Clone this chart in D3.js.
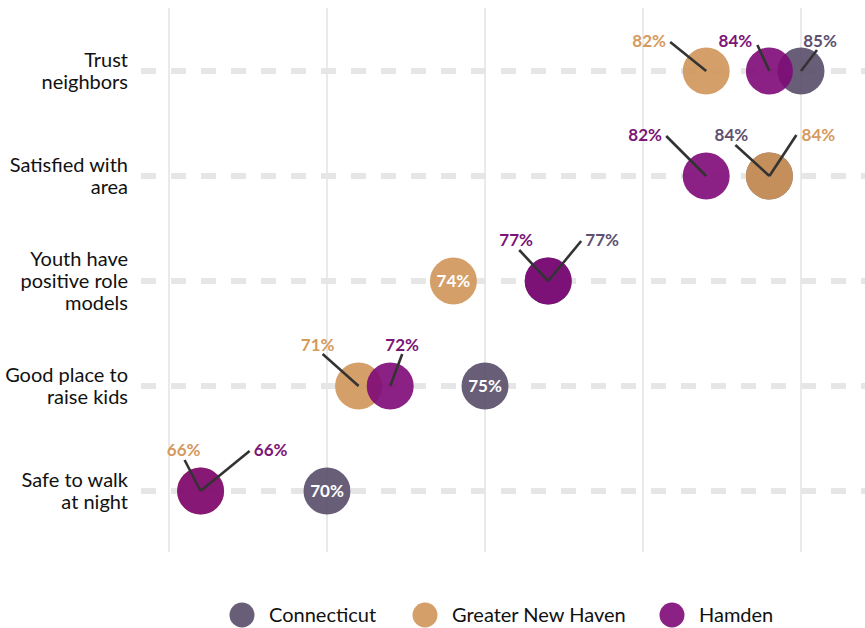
<!DOCTYPE html>
<html><head><meta charset="utf-8">
<script src="https://cdn.jsdelivr.net/npm/d3@7"></script>
<style>body{margin:0;background:#fff;} svg{display:block;font-family:"Source Sans Pro","Lato","Noto Sans",sans-serif;}</style>
</head><body><svg id="c" width="865" height="628"></svg>
<script>
const categories = ["Trust neighbors","Satisfied with area","Youth have positive role models","Good place to raise kids","Safe to walk at night"];
const categoryLines = [["Trust","neighbors"],["Satisfied with","area"],["Youth have","positive role","models"],["Good place to","raise kids"],["Safe to walk","at night"]];
const seriesNames = ["Connecticut","Greater New Haven","Hamden"];
const connecticut = [85, 84, 77, 75, 70];
const greaterNewHaven = [82, 84, 74, 71, 66];
const hamden = [84, 82, 77, 72, 66];
const xTicks = [65, 70, 75, 80, 85];

const colors = {"Connecticut":"#594d69","Greater New Haven":"#cf9559","Hamden":"#7e0977"};
const textColors = {"Connecticut":"#5e5070","Greater New Haven":"#d59a5e","Hamden":"#7b1577"};
// label placement: [series, category index] -> text offset & leader end offset (px); none = inside
const nudges = {
  "Greater New Haven|0":{t:[-57,-30],l:[-36,-29]},
  "Hamden|0":{t:[-34,-30],l:[-12,-26]},
  "Connecticut|0":{t:[19,-30],l:[16,-21]},
  "Hamden|1":{t:[-61,-41],l:[-40,-40]},
  "Connecticut|1":{t:[-38,-41],l:[-34,-31]},
  "Greater New Haven|1":{t:[49,-41],l:[27,-41]},
  "Hamden|2":{t:[-32,-41],l:[-29,-31]},
  "Connecticut|2":{t:[54,-41],l:[33,-40]},
  "Greater New Haven|3":{t:[-41,-41],l:[-36,-32]},
  "Hamden|3":{t:[12,-41],l:[12,-32]},
  "Greater New Haven|4":{t:[-17,-41],l:[-16,-31]},
  "Hamden|4":{t:[70,-41],l:[49,-40]}
};

const svg = d3.select("#c");
const x = d3.scaleLinear().domain([65,85]).range([169,801]);
const y = d3.scalePoint().domain(categories).range([71,491]);

// vertical grid
svg.append("g").selectAll("line").data(xTicks).join("line")
  .attr("x1",d=>x(d)).attr("x2",d=>x(d)).attr("y1",8).attr("y2",552)
  .attr("stroke","#dcdcdc").attr("stroke-width",1.2);
// dashed row lines
svg.append("g").selectAll("line").data(categories).join("line")
  .attr("x1",141).attr("x2",865).attr("y1",d=>y(d)).attr("y2",d=>y(d))
  .attr("stroke","#e6e6e6").attr("stroke-width",6).attr("stroke-dasharray","15,15");
// category labels
const cl = svg.append("g").selectAll("text").data(categories).join("text")
  .attr("text-anchor","end").attr("font-size",20).attr("fill","#111");
cl.each(function(d,i){
  const lines = categoryLines[i]; const n = lines.length; const lh = 22;
  d3.select(this).selectAll("tspan").data(lines).join("tspan")
    .attr("x",128).attr("y",(t,j)=>y(d)+(j-(n-1)/2)*lh).attr("dy","0.35em").text(t=>t);
});

const points = [];
const seriesVals = [connecticut, greaterNewHaven, hamden];
seriesNames.forEach((s,si)=>{
  categories.forEach((c,ci)=>points.push({s, c, ci, v: seriesVals[si][ci]}));
});
svg.append("g").selectAll("circle").data(points).join("circle")
  .attr("cx",d=>x(d.v)).attr("cy",d=>y(d.c)).attr("r",23.5)
  .attr("fill",d=>colors[d.s]).attr("fill-opacity",0.9);

const lab = points.map(d=>({...d, n:nudges[d.s+"|"+d.ci]}));
svg.append("g").selectAll("line").data(lab.filter(d=>d.n)).join("line")
  .attr("x1",d=>x(d.v)).attr("y1",d=>y(d.c))
  .attr("x2",d=>x(d.v)+d.n.l[0]).attr("y2",d=>y(d.c)+d.n.l[1])
  .attr("stroke","#333").attr("stroke-width",2.6);
svg.append("g").selectAll("text").data(lab).join("text")
  .attr("x",d=>d.n? x(d.v)+d.n.t[0] : x(d.v))
  .attr("y",d=>d.n? y(d.c)+d.n.t[1] : y(d.c))
  .attr("dy","0.35em").attr("text-anchor","middle")
  .attr("font-size",17).attr("font-weight","bold")
  .attr("fill",d=>d.n? textColors[d.s] : "#fff")
  .text(d=>d.v+"%");

// legend
const legX = [242, 425, 672];
const lg = svg.append("g").selectAll("g").data(seriesNames).join("g")
  .attr("transform",(d,i)=>`translate(${legX[i]},615)`);
lg.append("circle").attr("r",12.5).attr("fill",d=>colors[d]).attr("fill-opacity",0.9);
lg.append("text").attr("x",27).attr("dy","0.35em").attr("font-size",20).attr("fill","#111").text(d=>d);
</script></body></html>
